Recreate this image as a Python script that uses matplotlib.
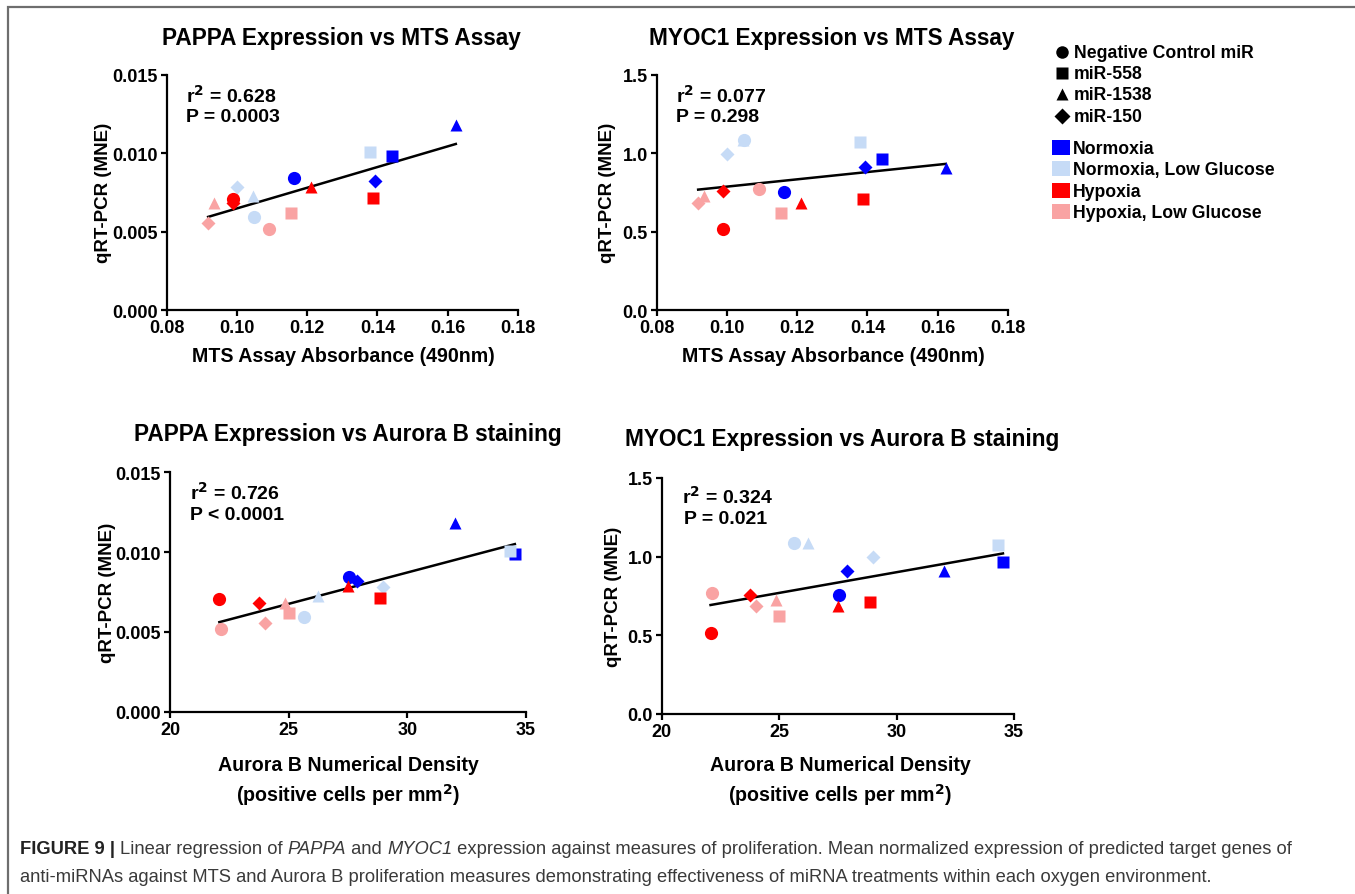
import numpy as np
import matplotlib
matplotlib.use("Agg")
import matplotlib.pyplot as plt
from matplotlib.patches import Rectangle

W, H = 1355, 895
plt.rcParams['font.family'] = ['Liberation Sans', 'DejaVu Sans']

# ---------------- data ----------------
conditions = ["Normoxia", "Normoxia, Low Glucose", "Hypoxia", "Hypoxia, Low Glucose"]
condition_colors = ["#0000FF", "#C6DBF6", "#FF0000", "#F9A3A3"]
treatments = ["Negative Control miR", "miR-558", "miR-1538", "miR-150"]
treatment_markers = ["o", "s", "^", "D"]
marker_sizes = [9.5, 9.0, 9.0, 6.8]

# rows = condition, columns = treatment (NC, 558, 1538, 150)
mts_absorbance = [
    [0.1163, 0.1442, 0.1623, 0.1394],
    [0.1049, 0.1380, 0.1045, 0.0999],
    [0.0988, 0.1387, 0.1210, 0.0988],
    [0.1092, 0.1155, 0.0935, 0.0918],
]
aurora_density = [
    [27.54, 34.53, 32.00, 27.90],
    [25.64, 34.32, 26.22, 28.99],
    [22.08, 28.85, 27.52, 23.76],
    [22.15, 25.00, 24.86, 24.02],
]
pappa_expr = [
    [0.00844, 0.00986, 0.0118, 0.00821],
    [0.00591, 0.0101, 0.00726, 0.00783],
    [0.00707, 0.00713, 0.00786, 0.00682],
    [0.00519, 0.00621, 0.00680, 0.00554],
]
myoc1_expr = [
    [0.755, 0.963, 0.906, 0.912],
    [1.085, 1.072, 1.088, 0.996],
    [0.515, 0.710, 0.685, 0.757],
    [0.770, 0.621, 0.725, 0.685],
]

panel_titles = ["PAPPA Expression vs MTS Assay", "MYOC1 Expression vs MTS Assay",
                "PAPPA Expression vs Aurora B staining", "MYOC1 Expression vs Aurora B staining"]
stats_r2 = ["0.628", "0.077", "0.726", "0.324"]
stats_p = ["P = 0.0003", "P = 0.298", "P < 0.0001", "P = 0.021"]

mts_ticks = [0.08, 0.10, 0.12, 0.14, 0.16, 0.18]
aurora_ticks = [20, 25, 30, 35]
pappa_ticks = [0.000, 0.005, 0.010, 0.015]
myoc1_ticks = [0.0, 0.5, 1.0, 1.5]

caption_bold = "FIGURE 9 | "
caption_line1 = [("Linear regression of ", "normal"), ("PAPPA", "italic"), (" and ", "normal"),
                 ("MYOC1", "italic"),
                 (" expression against measures of proliferation. Mean normalized expression of predicted target genes of", "normal")]
caption_line2 = "anti-miRNAs against MTS and Aurora B proliferation measures demonstrating effectiveness of miRNA treatments within each oxygen environment."

# ---------------- layout ----------------
fig = plt.figure(figsize=(W / 100, H / 100), dpi=100)


def box(l, t, r, b):
    return [l / W, 1 - b / H, (r - l) / W, (b - t) / H]


def fpos(x, y):
    return x / W, 1 - y / H


panels = [
    dict(rect=box(166.7, 76, 518, 311), x=mts_absorbance, y=pappa_expr, xt=mts_ticks, yt=pappa_ticks,
         xfmt="{:.2f}", yfmt="{:.3f}"),
    dict(rect=box(656.7, 76, 1008, 311), x=mts_absorbance, y=myoc1_expr, xt=mts_ticks, yt=myoc1_ticks,
         xfmt="{:.2f}", yfmt="{:.1f}"),
    dict(rect=box(170, 473.3, 526, 712.7), x=aurora_density, y=pappa_expr, xt=aurora_ticks, yt=pappa_ticks,
         xfmt="{:d}", yfmt="{:.3f}"),
    dict(rect=box(661.7, 479, 1014, 715), x=aurora_density, y=myoc1_expr, xt=aurora_ticks, yt=myoc1_ticks,
         xfmt="{:d}", yfmt="{:.1f}"),
]

for p in panels:
    ax = fig.add_axes(p["rect"])
    xs = np.array(p["x"], dtype=float)
    ys = np.array(p["y"], dtype=float)
    # regression line
    slope, intercept = np.polyfit(xs.ravel(), ys.ravel(), 1)
    xl = np.array([xs.min(), xs.max()])
    ax.plot(xl, slope * xl + intercept, color="black", lw=1.8, zorder=2)
    for ci in range(4):
        for ti in reversed(range(4)):
            ax.plot(xs[ci, ti], ys[ci, ti], marker=treatment_markers[ti], ms=marker_sizes[ti],
                    color=condition_colors[ci], mec="none", ls="none", zorder=3)
    ax.set_xlim(p["xt"][0], p["xt"][-1])
    ax.set_ylim(p["yt"][0], p["yt"][-1])
    ax.set_xticks(p["xt"])
    ax.set_yticks(p["yt"])
    ax.set_xticklabels([p["xfmt"].format(v) for v in p["xt"]], fontweight="bold", fontsize=13)
    ax.set_yticklabels([p["yfmt"].format(v) for v in p["yt"]], fontweight="bold", fontsize=13)
    for s in ["top", "right"]:
        ax.spines[s].set_visible(False)
    for s in ["left", "bottom"]:
        ax.spines[s].set_linewidth(1.6)
    ax.tick_params(direction="out", length=4.5, width=1.6, pad=2)
    ax.patch.set_alpha(0)
    ax.margins(0)
    for sp in ax.spines.values():
        sp.set_clip_on(False)

title_pos = [(341, 38), (832, 38), (348, 435), (842, 440)]
for (x, y), t in zip(title_pos, panel_titles):
    fig.text(*fpos(x, y), t, ha="center", va="center", fontsize=16.3, fontweight="bold")

ylabel_pos = [(103, 193), (608, 193), (107, 593), (614, 597)]
for x, y in ylabel_pos:
    fig.text(*fpos(x, y), "qRT-PCR (MNE)", ha="center", va="center", rotation=90,
             fontsize=13.5, fontweight="bold")

for x, y in [(343, 357), (833, 357)]:
    fig.text(*fpos(x, y), "MTS Assay Absorbance (490nm)", ha="center", va="center",
             fontsize=14.1, fontweight="bold")
for x in [348, 840]:
    fig.text(*fpos(x, 766), "Aurora B Numerical Density", ha="center", va="center",
             fontsize=14.1, fontweight="bold")
    fig.text(*fpos(x, 795), "(positive cells per mm$^\\mathbf{2}$)", ha="center", va="center",
             fontsize=14.1, fontweight="bold")

stat_pos = [((186, 96), (186, 117)), ((676, 96), (676, 117)),
            ((190, 493), (190, 516)), ((682, 497), (684, 520))]
for ((x1, y1), (x2, y2)), r2, pv in zip(stat_pos, stats_r2, stats_p):
    fig.text(*fpos(x1, y1), "r$^\\mathbf{2}$ = " + r2, ha="left", va="center",
             fontsize=14, fontweight="bold")
    fig.text(*fpos(x2, y2), pv, ha="left", va="center", fontsize=14, fontweight="bold")

# overlay for legend & frame
ov = fig.add_axes([0, 0, 1, 1])
ov.set_xlim(0, W)
ov.set_ylim(H, 0)
ov.axis("off")
ov.patch.set_alpha(0)

leg_rows = [53, 74, 95, 117]
for ti, y in enumerate(leg_rows):
    ov.plot(1062, y, marker=treatment_markers[ti], ms=[9, 8.5, 9, 8.5][ti], color="black",
            mec="none", ls="none")
    ov.text(1074, y, treatments[ti], ha="left", va="center", fontsize=12.7, fontweight="bold")
col_rows = [149, 170, 192, 213]
for ci, y in enumerate(col_rows):
    ov.add_patch(Rectangle((1052, y - 8), 18, 15, color=condition_colors[ci], lw=0))
    ov.text(1073, y, conditions[ci], ha="left", va="center", fontsize=12.7, fontweight="bold")

ov.plot([8, 8, W], [H, 8, 8], color="#6e6e6e", lw=1.6, solid_joinstyle="miter")

# caption
renderer = fig.canvas.get_renderer()
cap_fs = 13.2
x0 = 20 / W
y1 = 1 - 850 / H
t = fig.text(x0, y1, caption_bold, fontsize=cap_fs, fontweight="bold", color="#222222", va="center")
xcur = t.get_window_extent(renderer).x1 / W
for s, style in caption_line1:
    tt = fig.text(xcur, y1, s, fontsize=cap_fs, style=style, color="#3a3a3a", va="center")
    xcur = tt.get_window_extent(renderer).x1 / W
fig.text(x0, 1 - 878 / H, caption_line2, fontsize=cap_fs, color="#3a3a3a", va="center")

fig.savefig("out.png", dpi=100)
